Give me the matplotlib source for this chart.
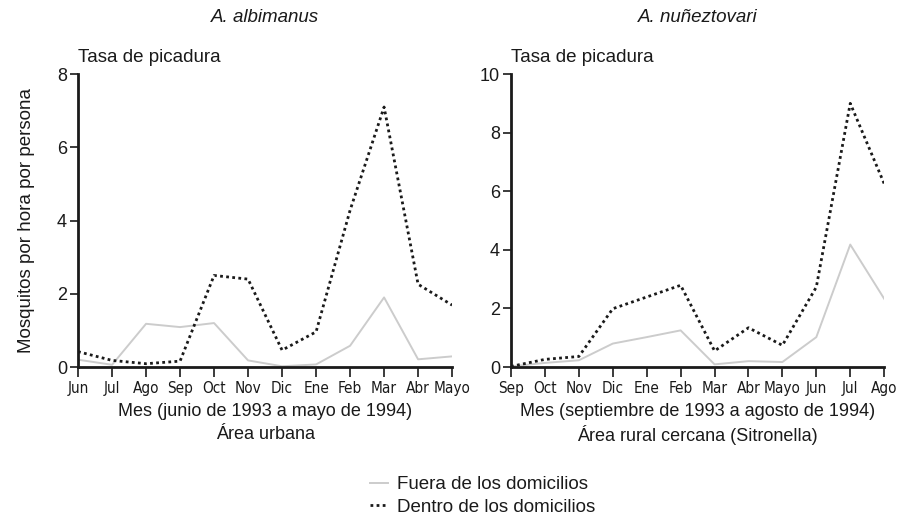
import numpy as np
import matplotlib
matplotlib.use("Agg")
import matplotlib.pyplot as plt
from matplotlib.lines import Line2D

plt.rcParams['font.family'] = ['Liberation Sans', 'DejaVu Sans']

# ---------------- data ----------------
meses_urb = ["Jun", "Jul", "Ago", "Sep", "Oct", "Nov", "Dic", "Ene", "Feb", "Mar", "Abr", "Mayo"]
fuera_urb = [0.20, 0.06, 1.18, 1.09, 1.20, 0.18, 0.02, 0.07, 0.58, 1.90, 0.21, 0.29]
dentro_urb = [0.42, 0.18, 0.09, 0.16, 2.50, 2.40, 0.46, 0.96, 4.28, 7.10, 2.26, 1.69]

meses_rur = ["Sep", "Oct", "Nov", "Dic", "Ene", "Feb", "Mar", "Abr", "Mayo", "Jun", "Jul", "Ago"]
fuera_rur = [0.02, 0.14, 0.23, 0.80, 1.02, 1.25, 0.09, 0.20, 0.17, 1.02, 4.18, 2.33]
dentro_rur = [0.02, 0.26, 0.36, 1.99, 2.39, 2.79, 0.55, 1.34, 0.74, 2.73, 9.00, 6.26]

GRAY = "#cccccc"
DARK = "#1a1a1a"
FS = 13

fig = plt.figure(figsize=(8.97, 5.18), dpi=100)
ax1 = fig.add_axes([0.087, 0.2915, 0.417, 0.5655])
ax2 = fig.add_axes([0.5697, 0.2915, 0.416, 0.5655])


def panel(ax, meses, fuera, dentro, ymax, yticks, title, xlabel, area):
    x = np.arange(len(meses))
    ax.plot(x, fuera, color=GRAY, lw=1.4)
    ax.plot(x, dentro, color=DARK, lw=2.0, linestyle=(0, (1, 1.2)))
    ax.set_xlim(0, len(meses) - 1)
    ax.set_ylim(0, ymax)
    ax.set_xticks(x)
    ax.set_xticklabels(meses, fontsize=11, family='DejaVu Sans', stretch='condensed')
    ax.set_yticks(yticks)
    ax.tick_params(axis='y', labelsize=FS, length=6, width=1.2, color=DARK, labelcolor=DARK, pad=2)
    ax.tick_params(axis='x', length=7, width=1.2, color=DARK, labelcolor=DARK, pad=3)
    for s in ["top", "right"]:
        ax.spines[s].set_visible(False)
    for s in ["left", "bottom"]:
        ax.spines[s].set_linewidth(2)
        ax.spines[s].set_color(DARK)
    ax.text(0.5, 1.193, title, transform=ax.transAxes, ha='center', va='center',
            fontsize=13.5, style='italic', color=DARK)
    ax.text(0.0, 1.058, "Tasa de picadura", transform=ax.transAxes, ha='left', va='center',
            fontsize=13.5, color=DARK)
    ax.text(0.5, -0.152, xlabel, transform=ax.transAxes, ha='center', va='center',
            fontsize=FS, color=DARK)
    ax.text(0.5, -0.231, area, transform=ax.transAxes, ha='center', va='center',
            fontsize=FS, color=DARK)


panel(ax1, meses_urb, fuera_urb, dentro_urb, 8, [0, 2, 4, 6, 8], "A. albimanus",
      "Mes (junio de 1993 a mayo de 1994)", "Área urbana")
panel(ax2, meses_rur, fuera_rur, dentro_rur, 10, [0, 2, 4, 6, 8, 10], "A. nuñeztovari",
      "Mes (septiembre de 1993 a agosto de 1994)", "Área rural cercana (Sitronella)")

ax1.set_ylabel("Mosquitos por hora por persona", fontsize=13.5, color=DARK, labelpad=16)

handles = [Line2D([], [], color=GRAY, lw=1.4),
           Line2D([], [], color=DARK, lw=2.0, linestyle=(0, (1, 1.2)))]
fig.legend(handles, ["Fuera de los domicilios", "Dentro de los domicilios"],
           loc='center left', bbox_to_anchor=(0.4125, 0.0425), frameon=False,
           fontsize=13.5, handlelength=0.95, handletextpad=0.5, labelspacing=0.3,
           borderpad=0, borderaxespad=0, labelcolor=DARK)

fig.savefig("out.png", dpi=100)
